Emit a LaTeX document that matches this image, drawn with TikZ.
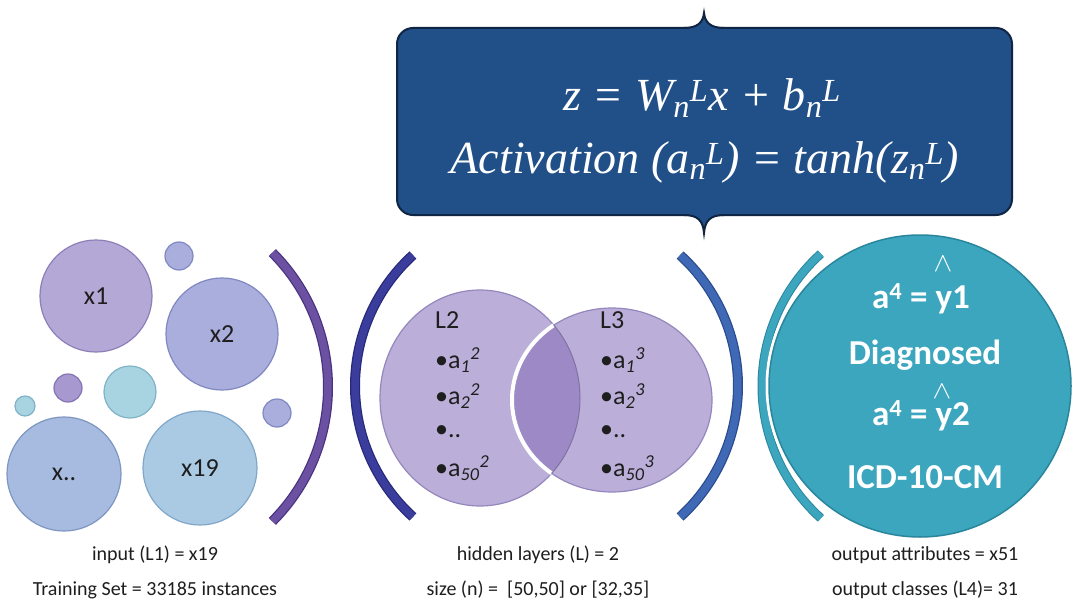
\documentclass[tikz,border=0pt]{standalone}
\usepackage{graphicx}
\usepackage{fontspec}
\setmainfont{Carlito}
\newfontfamily\eqfont{Liberation Serif}

% palette
\definecolor{ink}{HTML}{1E1E1E}
\definecolor{lavA}{HTML}{B4A9D6}\definecolor{lavAe}{HTML}{8C80B8}
\definecolor{lavB}{HTML}{A9AEDD}\definecolor{lavBe}{HTML}{8088C2}
\definecolor{lavC}{HTML}{A898D0}\definecolor{lavCe}{HTML}{8574B5}
\definecolor{cyA}{HTML}{A8D3E1}\definecolor{cyAe}{HTML}{7FB3C7}
\definecolor{blA}{HTML}{A7BBE0}\definecolor{blAe}{HTML}{7F96C2}
\definecolor{blB}{HTML}{AACAE3}\definecolor{blBe}{HTML}{80A7C9}
\definecolor{brPurple}{HTML}{6C51A2}\definecolor{brPurpleE}{HTML}{47337E}
\definecolor{brNavy}{HTML}{3B3D9D}\definecolor{brNavyE}{HTML}{26287A}
\definecolor{brBlue}{HTML}{3F68B5}\definecolor{brBlueE}{HTML}{2A4B8E}
\definecolor{hidFill}{HTML}{BBAFD9}\definecolor{hidEdge}{HTML}{9487BD}
\definecolor{lensFill}{HTML}{9D89C6}
\definecolor{outFill}{HTML}{3BA6BE}\definecolor{outEdge}{HTML}{2A869C}
\definecolor{boxFill}{HTML}{214F87}\definecolor{boxEdge}{HTML}{0F2543}

\begin{document}
\begin{tikzpicture}[x=1pt,y=-1pt,
  bubble/.style={circle, inner sep=0pt, line width=1.2pt, text=ink,
    font=\fontsize{26}{30}\selectfont},
  arcbar/.style={line width=7.5pt, line cap=butt},
  lbl/.style={font=\fontsize{20}{24}\selectfont, text=ink, inner sep=0pt},
  item/.style={font=\fontsize{26}{30}\selectfont, text=ink, anchor=west, inner sep=0pt},
  outtxt/.style={font=\fontsize{35}{40}\selectfont\bfseries, text=white, inner sep=0pt},
  hat/.style={text=white, inner sep=0pt},
  eq/.style={font=\fontsize{46}{52}\selectfont\eqfont\itshape, text=white, inner sep=0pt}]

\useasboundingbox (0,0) rectangle (1074,610);
\fill[white] (0,0) rectangle (1074,610);

% ---------- input layer ----------
\node[bubble, minimum size=112pt, fill=lavA, draw=lavAe] (x1) at (96,296) {x1};
\node[bubble, minimum size=28pt, fill=lavB, draw=lavBe] (d1) at (179,256) {};
\node[bubble, minimum size=112pt, fill=lavB, draw=lavBe] (x2) at (222,334) {x2};
\node[bubble, minimum size=28pt, fill=lavC, draw=lavCe] (d2) at (68,388) {};
\node[bubble, minimum size=52pt, fill=cyA, draw=cyAe] (d3) at (130,392) {};
\node[bubble, minimum size=20pt, fill=cyA, draw=cyAe] (d4) at (25,406) {};
\node[bubble, minimum size=28pt, fill=lavB, draw=lavBe] (d5) at (277,413) {};
\node[bubble, minimum size=114pt, fill=blA, draw=blAe] (xn) at (64,474) {x..};
\node[bubble, minimum size=114pt, fill=blB, draw=blBe] (x19) at (200,468) {x19};

% closing bracket of the input layer
\draw[arcbar, draw=brPurple, preaction={draw=brPurpleE, line width=10pt}]
  (138,387) ++(-45:190) arc[start angle=-45, end angle=45, radius=190];

% ---------- hidden layers ----------
\draw[arcbar, draw=brNavy, preaction={draw=brNavyE, line width=10pt}]
  (532,386) ++(132.3:177) arc[start angle=132.3, end angle=227.7, radius=177];
\draw[arcbar, draw=brBlue, preaction={draw=brBlueE, line width=10pt}]
  (561,386) ++(-47.7:177) arc[start angle=-47.7, end angle=47.7, radius=177];

\filldraw[fill=hidFill, draw=hidEdge, line width=1.2pt]
  (480,398) ellipse[x radius=100, y radius=108];
\filldraw[fill=hidFill, draw=hidEdge, line width=1.2pt]
  (612,400) ellipse[x radius=100, y radius=92];
\begin{scope}
  \clip (480,398) ellipse[x radius=100, y radius=108];
  \fill[lensFill] (612,400) ellipse[x radius=100, y radius=92];
  \draw[white, line width=4pt] (612,400) ellipse[x radius=100, y radius=92];
\end{scope}
\begin{scope}
  \clip (612,400) ellipse[x radius=100, y radius=92];
  \draw[hidEdge!85!black, line width=1pt] (480,398) ellipse[x radius=100, y radius=108];
\end{scope}

\node[item] (l2) at (435,320) {L2};
\node[item] (l2a) at (435,360) {\textbullet a\textsubscript{\itshape 1}\textsuperscript{\itshape 2}};
\node[item] (l2b) at (435,396) {\textbullet a\textsubscript{\itshape 2}\textsuperscript{\itshape 2}};
\node[item] (l2c) at (435,432) {\textbullet ..};
\node[item] (l2d) at (435,468) {\textbullet a\textsubscript{\itshape 50}\textsuperscript{\itshape 2}};

\node[item] (l3) at (600,320) {L3};
\node[item] (l3a) at (600,360) {\textbullet a\textsubscript{\itshape 1}\textsuperscript{\itshape 3}};
\node[item] (l3b) at (600,396) {\textbullet a\textsubscript{\itshape 2}\textsuperscript{\itshape 3}};
\node[item] (l3c) at (600,432) {\textbullet ..};
\node[item] (l3d) at (600,468) {\textbullet a\textsubscript{\itshape 50}\textsuperscript{\itshape 3}};

% ---------- output layer ----------
\draw[line width=7pt, line cap=butt, draw=outFill, preaction={draw=outEdge, line width=9pt}]
  (940,386) ++(132:178) arc[start angle=132, end angle=228, radius=178];
\node[circle, minimum size=302pt, inner sep=0pt, fill=outFill, draw=outEdge, line width=1.5pt,
  preaction={draw=white, line width=7pt}] (out) at (920,386) {};

\node[hat] (h1) at (943,264) {\scalebox{2.8}[2.7]{$\wedge$}};
\node[outtxt] (y1) at (921,299) {a\textsuperscript{4} = y1};
\node[outtxt] (dg) at (925,355) {Diagnosed};
\node[hat] (h2) at (942,392) {\scalebox{2.8}[2.5]{$\wedge$}};
\node[outtxt] (y2) at (921,416) {a\textsuperscript{4} = y2};
\node[outtxt] (icd) at (925,477) {ICD-10-CM};

% ---------- formula callout ----------
\filldraw[fill=boxFill, draw=boxEdge, line width=2pt, rounded corners=16pt]
  (397,28) rectangle (1012,215);
\fill[boxFill] (684,28) .. controls (698,28) and (703,22) .. (704,13)
  .. controls (705,22) and (710,28) .. (724,28) -- (724,32) -- (684,32) -- cycle;
\draw[boxEdge, line width=2pt] (684,28) .. controls (698,28) and (703,22) .. (704,13)
  .. controls (705,22) and (710,28) .. (724,28);
\fill[boxFill] (684,215) .. controls (698,215) and (703,221) .. (704,233)
  .. controls (705,221) and (710,215) .. (724,215) -- (724,211) -- (684,211) -- cycle;
\draw[boxEdge, line width=2pt] (684,215) .. controls (698,215) and (703,221) .. (704,233)
  .. controls (705,221) and (710,215) .. (724,215);

\node[eq] (eq1) at (702,98) {z = W\textsubscript{n}\textsuperscript{L}x + b\textsubscript{n}\textsuperscript{L}};
\node[eq] (eq2) at (705,162) {Activation (a\textsubscript{n}\textsuperscript{L}) = tanh(z\textsubscript{n}\textsuperscript{L})};

% ---------- captions ----------
\node[lbl] (c1) at (155,555) {input (L1) = x19};
\node[lbl] (c2) at (155,590) {Training Set = 33185 instances};
\node[lbl] (c3) at (538,555) {hidden layers (L) = 2};
\node[lbl] (c4) at (538,590) {size (n) = \ [50,50] or [32,35]};
\node[lbl] (c5) at (925,555) {output attributes = x51};
\node[lbl] (c6) at (925,590) {output classes (L4)= 31};
\end{tikzpicture}
\end{document}
